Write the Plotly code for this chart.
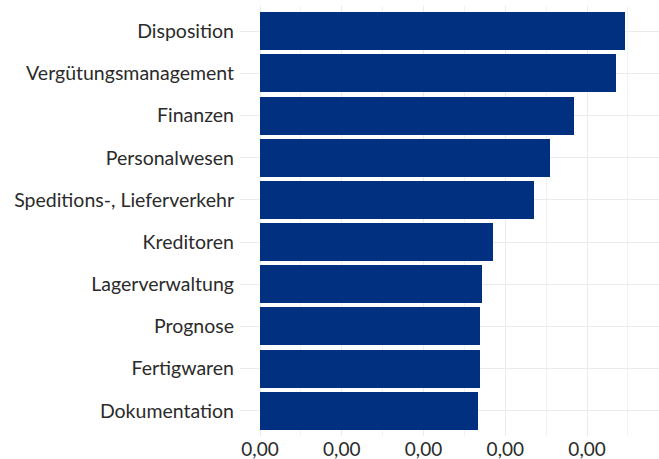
import plotly.graph_objects as go

categories = ["Disposition", "Vergütungsmanagement", "Finanzen", "Personalwesen",
              "Speditions-, Lieferverkehr", "Kreditoren", "Lagerverwaltung",
              "Prognose", "Fertigwaren", "Dokumentation"]
values = [0.00447, 0.00435, 0.00384, 0.00355, 0.00335, 0.00285, 0.00272,
          0.00269, 0.00269, 0.00266]
x_ticks = [0.0, 0.001, 0.002, 0.003, 0.004]

fig = go.Figure(go.Bar(
    x=values, y=categories, orientation="h",
    marker=dict(color="#00307f", line=dict(width=0)),
    width=0.9,
))

fig.update_layout(
    width=659, height=459,
    margin=dict(l=240, r=0, t=6, b=23, autoexpand=False),
    plot_bgcolor="white", paper_bgcolor="white",
    separators=",.",
    font=dict(family="Lato", size=19.5, color="#2b2b2b"),
    showlegend=False,
    bargap=0,
)
fig.update_xaxes(
    range=[-0.000245, 0.00488],
    tickvals=x_ticks, tickformat=",.2f",
    showgrid=True, gridcolor="#ebebeb", gridwidth=1.2,
    minor=dict(showgrid=True, gridcolor="#f2f2f2", gridwidth=0.6, dtick=0.001, tick0=0.0005),
    zeroline=False, showline=False, ticks="",
    ticklabelstandoff=0,
    tickfont=dict(size=19, color="#2b2b2b"),
)
fig.update_yaxes(
    categoryorder="array", categoryarray=categories,
    range=[9.6, -0.6],
    showgrid=True, gridcolor="#ebebeb", gridwidth=1.2,
    zeroline=False, showline=False, ticks="",
    ticklabelstandoff=5,
    tickfont=dict(size=19.5, color="#2b2b2b"),
)

fig.write_html("out.html", config={"displayModeBar": False},
               post_script="document.body.style.margin='0px';")
